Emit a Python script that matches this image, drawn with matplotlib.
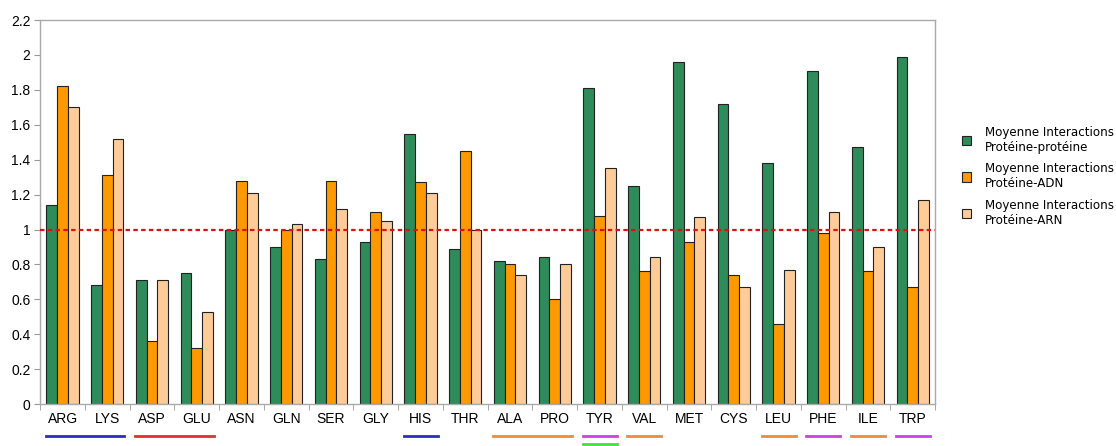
import matplotlib.pyplot as plt
import matplotlib.transforms as mtransforms
import numpy as np

# amino acids along the x axis
acides = ['ARG', 'LYS', 'ASP', 'GLU', 'ASN', 'GLN', 'SER', 'GLY', 'HIS', 'THR',
          'ALA', 'PRO', 'TYR', 'VAL', 'MET', 'CYS', 'LEU', 'PHE', 'ILE', 'TRP']

prot_prot = [1.14, 0.68, 0.71, 0.75, 1.00, 0.90, 0.83, 0.93, 1.55, 0.89,
             0.82, 0.84, 1.81, 1.25, 1.96, 1.72, 1.38, 1.91, 1.47, 1.99]
prot_adn = [1.82, 1.31, 0.36, 0.32, 1.28, 1.00, 1.28, 1.10, 1.27, 1.45,
            0.80, 0.60, 1.08, 0.76, 0.93, 0.74, 0.46, 0.98, 0.76, 0.67]
prot_arn = [1.70, 1.52, 0.71, 0.53, 1.21, 1.03, 1.12, 1.05, 1.21, 1.00,
            0.74, 0.80, 1.35, 0.84, 1.07, 0.67, 0.77, 1.10, 0.90, 1.17]

series_labels = ['Moyenne Interactions\nProtéine-protéine',
                 'Moyenne Interactions\nProtéine-ADN',
                 'Moyenne Interactions\nProtéine-ARN']

# coloured underlines under the labels: (first, last, colour, row)
groupes = [('ARG', 'LYS', '#2b2bc8', 0), ('ASP', 'GLU', '#e03030', 0),
           ('HIS', 'HIS', '#2b2bc8', 0), ('ALA', 'PRO', '#f08a3c', 0),
           ('TYR', 'TYR', '#d040e0', 0), ('TYR', 'TYR', '#40e040', 1),
           ('VAL', 'VAL', '#f08a3c', 0), ('LEU', 'LEU', '#f08a3c', 0),
           ('PHE', 'PHE', '#d040e0', 0), ('ILE', 'ILE', '#f08a3c', 0),
           ('TRP', 'TRP', '#d040e0', 0)]

couleurs = ['#2e8b5a', '#ff9900', '#ffcc99']

fig = plt.figure(figsize=(11.16, 4.46), dpi=100)
ax = fig.add_axes([0.036, 0.094, 0.802, 0.861])

x = np.arange(len(acides))
w = 0.24
for k, (vals, c, lab) in enumerate(zip([prot_prot, prot_adn, prot_arn], couleurs, series_labels)):
    ax.bar(x + (k - 1) * w, vals, w, color=c, edgecolor='#222222', linewidth=0.8,
           label=lab, zorder=2)

# reference line
ax.axhline(1, color='#dd1111', linestyle=(0, (2, 1.5)), linewidth=1.6, zorder=3)

ax.set_xlim(-0.5, len(acides) - 0.5)
ax.set_ylim(0, 2.2)
ax.set_yticks(np.arange(0, 2.21, 0.2))
ax.set_yticklabels(['%g' % round(v, 1) for v in np.arange(0, 2.21, 0.2)],
                   fontfamily='Liberation Sans', fontsize=10)
ax.set_xticks(x)
ax.set_xticklabels(acides, fontfamily='Liberation Sans', fontsize=10)
ax.tick_params(axis='x', length=0, pad=6)
ax.set_xticks(np.arange(-0.5, len(acides)), minor=True)
ax.tick_params(axis='x', which='minor', length=4, color='#999999')
ax.tick_params(axis='y', length=4, color='#999999', pad=3)
for s in ax.spines.values():
    s.set_color('#aaaaaa')
    s.set_linewidth(1)

# underlines below the labels
trans = mtransforms.blended_transform_factory(ax.transData, ax.transAxes)
for a, b, c, row in groupes:
    i0 = acides.index(a)
    i1 = acides.index(b)
    yy = -0.084 - row * 0.019
    ax.plot([i0 - 0.38, i1 + 0.38], [yy, yy], color=c, linewidth=2,
            transform=trans, clip_on=False)

leg = fig.legend(loc='center left', bbox_to_anchor=(0.852, 0.605), frameon=False,
                 fontsize=8.6, handlelength=0.8, handleheight=0.8, labelspacing=0.7,
                 handletextpad=1.15)

fig.savefig('out.png', dpi=100)
